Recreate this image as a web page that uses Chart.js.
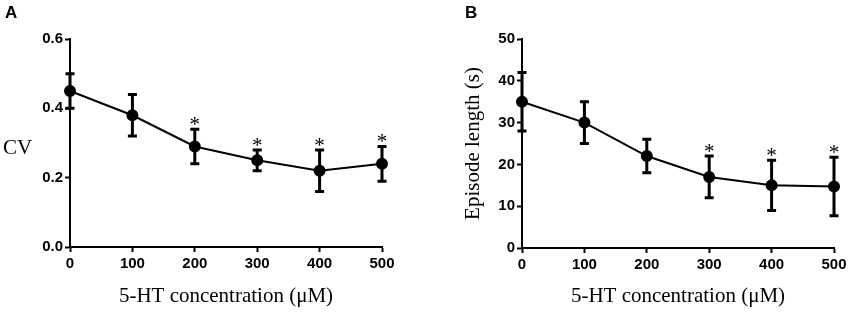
<!DOCTYPE html>
<html>
<head>
<meta charset="utf-8">
<script src="https://cdn.jsdelivr.net/npm/chart.js@4"></script>
<style>
  body { margin: 0; background: #fff; }
  .wrap { display: flex; width: 850px; height: 312px; }
  .panel { width: 425px; height: 312px; position: relative; }
</style>
</head>
<body>
<div class="wrap">
  <div class="panel"><canvas id="chartA" width="425" height="312"></canvas></div>
  <div class="panel"><canvas id="chartB" width="425" height="312"></canvas></div>
</div>
<script>
//-----------------------------------------------------------------------------
// data
//-----------------------------------------------------------------------------
const doses   = [0, 100, 200, 300, 400, 500];
const xTicks  = [0, 100, 200, 300, 400, 500];

const cvMean  = [0.45, 0.38, 0.29, 0.25, 0.22, 0.24];
const cvErr   = [0.05, 0.06, 0.05, 0.03, 0.06, 0.05];
const cvStar  = [false, false, true, true, true, true];
const cvTicks = [0, 0.2, 0.4, 0.6];

const epMean  = [35, 30, 22, 17, 15, 14.7];
const epErr   = [7, 5, 4, 5, 6, 7];
const epStar  = [false, false, false, true, true, true];
const epTicks = [0, 10, 20, 30, 40, 50];

const TICK_FONT  = { family: "'Liberation Sans', Arial, sans-serif", size: 15, weight: 'bold' };
const SERIF      = "'Liberation Serif', 'Times New Roman', serif";

//-----------------------------------------------------------------------------
// error bars, asterisks and the text round the axes
//-----------------------------------------------------------------------------
const errorBarPlugin = {
    id: 'errorBars',
    beforeDatasetsDraw(chart, args, opts) {
        const { x, y } = chart.scales;
        const ctx = chart.ctx;
        ctx.save();
        ctx.strokeStyle = '#000';
        ctx.lineWidth = 3;
        opts.mean.forEach((m, i) => {
            const px = x.getPixelForValue(doses[i]);
            const top = y.getPixelForValue(m + opts.err[i]);
            const bot = y.getPixelForValue(m - opts.err[i]);
            ctx.beginPath();
            ctx.moveTo(px, top); ctx.lineTo(px, bot);
            ctx.moveTo(px - 4.5, top); ctx.lineTo(px + 4.5, top);
            ctx.moveTo(px - 4.5, bot); ctx.lineTo(px + 4.5, bot);
            ctx.stroke();
        });
        ctx.restore();
    },
    afterDraw(chart, args, opts) {
        const { x, y } = chart.scales;
        const ctx = chart.ctx;
        ctx.save();
        ctx.fillStyle = '#000';
        // significance marks
        ctx.font = `21px ${SERIF}`;
        ctx.textAlign = 'center';
        ctx.textBaseline = 'alphabetic';
        opts.mean.forEach((m, i) => {
            if (!opts.star[i]) return;
            const px = x.getPixelForValue(doses[i]);
            const top = y.getPixelForValue(m + opts.err[i]);
            ctx.fillText('*', px, top + 2);
        });
        // panel letter
        ctx.font = "bold 17px 'Liberation Sans', Arial, sans-serif";
        ctx.textAlign = 'left';
        ctx.textBaseline = 'top';
        ctx.fillText(opts.letter, opts.letterX, 5);
        // x title
        ctx.font = `21px ${SERIF}`;
        ctx.textAlign = 'center';
        ctx.textBaseline = 'middle';
        ctx.fillText('5-HT concentration (\u03bcM)', (chart.chartArea.left + chart.chartArea.right) / 2, 296);
        // y title
        if (opts.rotateY) {
            ctx.translate(opts.yTitleX, (chart.chartArea.top + chart.chartArea.bottom) / 2);
            ctx.rotate(-Math.PI / 2);
            ctx.fillText(opts.yTitle, 0, 0);
        } else {
            ctx.textAlign = 'left';
            ctx.fillText(opts.yTitle, opts.yTitleX, 148);
        }
        ctx.restore();
    }
};

//-----------------------------------------------------------------------------
function axis(ticks, extra) {
    return Object.assign({
        type: 'linear',
        min: ticks[0],
        max: ticks[ticks.length - 1],
        afterBuildTicks: s => { s.ticks = ticks.map(v => ({ value: v })); },
        grid: { display: true, drawOnChartArea: false, drawTicks: true,
                tickLength: 5, tickWidth: 2, tickColor: '#000', color: '#000' },
        border: { display: true, color: '#000', width: 2 },
    }, extra);
}

function drawPanel(id, mean, err, star, yTicks, fmt, layout, text) {
    new Chart(document.getElementById(id), {
        type: 'scatter',
        data: {
            datasets: [{
                data: doses.map((d, i) => ({ x: d, y: mean[i] })),
                showLine: true,
                borderColor: '#000',
                backgroundColor: '#000',
                borderWidth: 2,
                pointRadius: 5,
                pointHoverRadius: 5,
                tension: 0,
                clip: false
            }]
        },
        options: {
            responsive: false,
            animation: false,
            layout: { padding: { left: 0, right: layout.right, top: 39, bottom: 0 } },
            plugins: {
                legend: { display: false },
                tooltip: { enabled: false },
                errorBars: Object.assign({ mean, err, star }, text)
            },
            scales: {
                x: axis(xTicks, {
                    afterFit: s => { s.height = layout.xh; },
                    ticks: { color: '#000', font: TICK_FONT, padding: 3, maxRotation: 0 }
                }),
                y: axis(yTicks, {
                    afterFit: s => { s.width = layout.yw; },
                    ticks: { color: '#000', font: TICK_FONT, padding: 2, callback: fmt }
                })
            }
        },
        plugins: [errorBarPlugin]
    });
}

drawPanel('chartA', cvMean, cvErr, cvStar, cvTicks, v => v.toFixed(1),
    { right: 43, xh: 65, yw: 70 },
    { letter: 'A', letterX: 5, yTitle: 'CV', yTitleX: 3, rotateY: false });

drawPanel('chartB', epMean, epErr, epStar, epTicks, v => String(v),
    { right: 16, xh: 64, yw: 97 },
    { letter: 'B', letterX: 40, yTitle: 'Episode length (s)', yTitleX: 48, rotateY: true });
</script>
</body>
</html>
